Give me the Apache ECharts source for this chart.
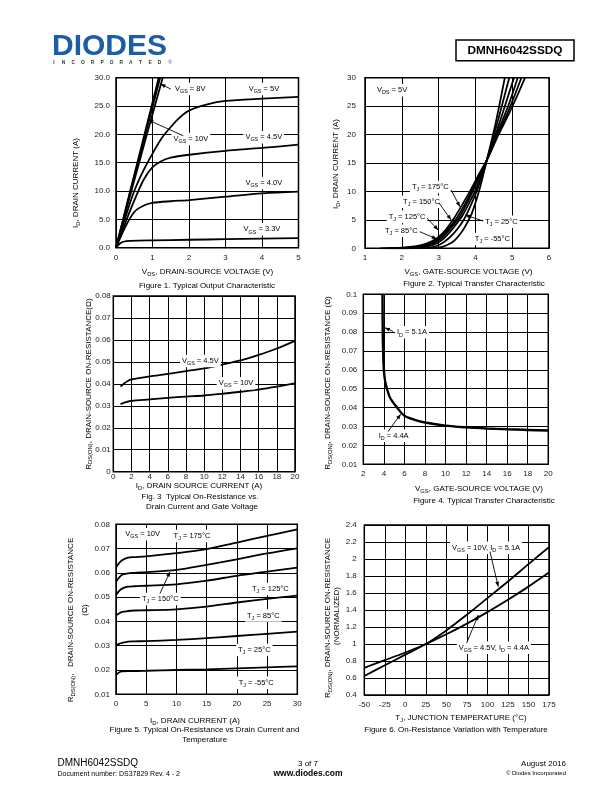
<!DOCTYPE html>
<html><head><meta charset="utf-8">
<script src="https://cdn.jsdelivr.net/npm/echarts@6/dist/echarts.min.js"></script>
<style>html,body{margin:0;padding:0;background:#fff}#c{width:612px;height:792px}</style>
</head><body><div id="c"></div>
<script>
// ---------- DATA ----------
// Figure 1: Typical Output Characteristic  [VDS (V), ID (A)]
const FIG1_VGS10 = [[0,0],[0.4,10.3],[0.8,20.5],[1.17,30]];
const FIG1_VGS8  = [[0,0],[0.4,10.0],[0.8,19.9],[1.21,30]];
const FIG1_VGS6  = [[0,0],[0.4,9.5],[0.8,18.9],[1.28,30]];
const FIG1_VGS5  = [[0,0],[0.25,5.2],[0.5,10],[0.75,13.6],[1,16.6],[1.25,19.3],[1.5,21.3],[1.75,23],[2,24.2],[2.5,25.3],[3,25.9],[4,26.3],[5,26.6]];
const FIG1_VGS45 = [[0,0],[0.25,4.3],[0.5,8.3],[0.75,11.9],[1,14.2],[1.25,15.3],[1.5,15.9],[2,16.4],[3,17.1],[4,17.6],[5,18.2]];
const FIG1_VGS40 = [[0,0],[0.25,3.6],[0.5,6.3],[0.75,7.4],[1,7.9],[1.5,8.2],[2,8.4],[3,9.0],[4,9.6],[5,9.9]];
const FIG1_VGS33 = [[0,0],[0.1,0.7],[0.2,1.05],[0.4,1.2],[1,1.3],[2,1.4],[3,1.5],[4,1.6],[5,1.7]];

// Figure 2: Typical Transfer Characteristic  [VGS (V), ID (A)]
const FIG2_T175 = [[1.4,0],[2.0,0.1],[2.5,0.5],[2.8,1.2],[3.0,2.0],[3.2,3.3],[3.39,5],[3.6,7.2],[3.85,10],[4.1,13.1],[4.31,15.5],[4.6,19.6],[4.9,23.5],[5.1,26.3],[5.35,30]];
const FIG2_T150 = [[1.6,0],[2.2,0.1],[2.6,0.5],[2.9,1.3],[3.1,2.3],[3.3,3.7],[3.48,5.2],[3.7,7.6],[3.9,10.1],[4.1,12.8],[4.31,15.5],[4.6,19.9],[4.9,24.2],[5.25,30]];
const FIG2_T125 = [[1.8,0],[2.35,0.1],[2.7,0.5],[3.0,1.4],[3.2,2.6],[3.4,4.1],[3.57,5.5],[3.8,8.3],[3.95,10.3],[4.15,13.2],[4.31,15.5],[4.6,20.3],[4.9,25.2],[5.15,30]];
const FIG2_T85  = [[2.0,0],[2.5,0.1],[2.85,0.6],[3.1,1.5],[3.3,2.8],[3.5,4.4],[3.67,6],[3.85,8.2],[4.0,10.2],[4.15,12.6],[4.31,15.5],[4.6,21],[4.85,26],[5.05,30]];
const FIG2_T25  = [[2.4,0],[2.8,0.15],[3.05,0.7],[3.3,1.9],[3.5,3.3],[3.7,5.2],[3.85,7.2],[4.05,10.3],[4.2,13.2],[4.31,15.5],[4.55,21],[4.75,25.8],[4.92,30]];
const FIG2_TM55 = [[2.8,0],[3.0,0.1],[3.2,0.5],[3.4,1.2],[3.55,2.2],[3.7,3.6],[3.9,6.1],[4.1,10.1],[4.31,15.5],[4.55,22],[4.8,30]];

// Figure 3: On-Resistance vs Drain Current  [ID (A), RDS(ON) (ohm)]
const FIG3_VGS45 = [[0.8,0.0387],[1.2,0.0402],[1.6,0.0413],[2,0.042],[4,0.0434],[6,0.0445],[8,0.0458],[10,0.047],[12,0.0488],[14,0.0507],[16,0.0532],[18,0.0561],[20,0.0596]];
const FIG3_VGS10 = [[0.8,0.0308],[1.5,0.0318],[2,0.0322],[4,0.0329],[6,0.0336],[8,0.0342],[10,0.0347],[12,0.0355],[14,0.0364],[16,0.0374],[18,0.0387],[20,0.0402]];

// Figure 4: RDS(ON) vs VGS  [VGS (V), RDS(ON) (ohm)]
const FIG4_ID51 = [[3.84,0.1],[3.86,0.08],[3.9,0.07],[3.97,0.06],[4.1,0.054],[4.27,0.05],[4.6,0.045],[5.25,0.04],[6,0.0356],[7,0.0334],[8,0.032],[10,0.0303],[12,0.0294],[14,0.0288],[16,0.0284],[18,0.028],[20,0.0277]];
const FIG4_ID44 = [[3.9,0.1],[3.92,0.08],[3.96,0.07],[4.03,0.06],[4.15,0.054],[4.33,0.05],[4.65,0.045],[5.3,0.0402],[6,0.0358],[7,0.0337],[8,0.0323],[10,0.0306],[12,0.0297],[14,0.0291],[16,0.0287],[18,0.0284],[20,0.0281]];

// Figure 5: RDS(ON) vs ID and Temperature
const FIG5_ID   = [0, 0.5, 1, 2, 3, 5, 10, 15, 20, 25, 30];
const FIG5_T175 = [0.0622, 0.0640, 0.0652, 0.0663, 0.0665, 0.0668, 0.0681, 0.0698, 0.0725, 0.0752, 0.0779];
const FIG5_T150 = [0.0564, 0.0580, 0.0592, 0.0598, 0.0600, 0.0603, 0.0612, 0.0633, 0.0656, 0.0680, 0.0701];
const FIG5_T125 = [0.0509, 0.0525, 0.0535, 0.0543, 0.0545, 0.0547, 0.0553, 0.0568, 0.0588, 0.0605, 0.0622];
const FIG5_T85  = [0.0425, 0.0433, 0.0439, 0.0443, 0.0445, 0.0446, 0.0450, 0.0461, 0.0478, 0.0493, 0.0506];
const FIG5_T25  = [0.0303, 0.0308, 0.0312, 0.0317, 0.0318, 0.0319, 0.0324, 0.0331, 0.0340, 0.0349, 0.0358];
const FIG5_TM55 = [0.0180, 0.0190, 0.0194, 0.0196, 0.0196, 0.0197, 0.0200, 0.0203, 0.0207, 0.0211, 0.0215];

// Figure 6: Normalized RDS(ON) vs Temperature
const FIG6_TJ    = [-50, -25, 0, 25, 50, 75, 100, 125, 150, 175];
const FIG6_VGS10 = [0.624, 0.75, 0.875, 1.0, 1.16, 1.345, 1.54, 1.735, 1.94, 2.14];
const FIG6_VGS45 = [0.72, 0.81, 0.90, 1.0, 1.115, 1.24, 1.375, 1.52, 1.675, 1.84];

// Axis ranges / ticks  [min, max, interval]
const AXES = [
  {x:[0,5,1],       y:[0,30,5]},
  {x:[1,6,1],       y:[0,30,5]},
  {x:[0,20,2],      y:[0,0.08,0.01]},
  {x:[2,20,2],      y:[0.01,0.1,0.01]},
  {x:[0,30,5],      y:[0.01,0.08,0.01]},
  {x:[-50,175,25],  y:[0.4,2.4,0.2]}
];

// ---------- CHART ----------
const FONT = '"Liberation Sans", Arial, Helvetica, sans-serif';
const chart = echarts.init(document.getElementById('c'), null, {renderer:'canvas', width:612, height:792});

const GRIDS = [
  {left:116,   top:77.7,  width:182.5, height:170},
  {left:365,   top:77.7,  width:184,   height:170.6},
  {left:113.3, top:296,   width:181.7, height:175.7},
  {left:363.3, top:294.3, width:185,   height:170},
  {left:116,   top:524.3, width:181.3, height:170},
  {left:364.3, top:525,   width:184.7, height:170}
];
const X_MARGIN = [6, 5.5, 1, 5, 5, 6];
const Y_MARGIN = [6, 9, 2.5, 6, 6, 7.5];

const yFmt = [
  v => v.toFixed(1),
  v => String(Math.round(v)),
  v => String(Math.round(v*100)/100),
  v => String(Math.round(v*100)/100),
  v => String(Math.round(v*100)/100),
  v => String(Math.round(v*10)/10)
];

function axis(i, r, fmt, margin) {
  return {
    gridIndex:i, type:'value', min:r[0], max:r[1], interval:r[2],
    axisLine:{show:false}, axisTick:{show:false},
    splitLine:{show:true, lineStyle:{color:'#000', width:1}},
    axisLabel:{color:'#222', fontSize:8, fontFamily:FONT, margin, formatter:fmt,
               showMinLabel:true, showMaxLabel:true}
  };
}

const grid = GRIDS.map(g => Object.assign({show:true, borderColor:'#000', borderWidth:1.5, backgroundColor:'#fff', containLabel:false}, g));
const xAxis = AXES.map((a,i) => axis(i, a.x, v => String(Math.round(v*100)/100), X_MARGIN[i]));
const yAxis = AXES.map((a,i) => axis(i, a.y, yFmt[i], Y_MARGIN[i]));

function ser(i, data) {
  return {type:'line', xAxisIndex:i, yAxisIndex:i, data, showSymbol:false, symbol:'none',
          smooth:0.3, clip:true, silent:true,
          lineStyle:{color:'#000', width:1.8}, z:5};
}
const zip = (xs, ys) => xs.map((x,k) => [x, ys[k]]);

const series = [
  ser(0, FIG1_VGS10), ser(0, FIG1_VGS8), ser(0, FIG1_VGS6), ser(0, FIG1_VGS5),
  ser(0, FIG1_VGS45), ser(0, FIG1_VGS40), ser(0, FIG1_VGS33),
  ser(1, FIG2_T175), ser(1, FIG2_T150), ser(1, FIG2_T125), ser(1, FIG2_T85), ser(1, FIG2_T25), ser(1, FIG2_TM55),
  ser(2, FIG3_VGS45), ser(2, FIG3_VGS10),
  ser(3, FIG4_ID51), ser(3, FIG4_ID44),
  ser(4, zip(FIG5_ID, FIG5_T175)), ser(4, zip(FIG5_ID, FIG5_T150)), ser(4, zip(FIG5_ID, FIG5_T125)),
  ser(4, zip(FIG5_ID, FIG5_T85)), ser(4, zip(FIG5_ID, FIG5_T25)), ser(4, zip(FIG5_ID, FIG5_TM55)),
  ser(5, zip(FIG6_TJ, FIG6_VGS10)), ser(5, zip(FIG6_TJ, FIG6_VGS45))
];

chart.setOption({animation:false, backgroundColor:'#fff', grid, xAxis, yAxis, series});

// ---------- TEXT / ANNOTATIONS ----------
function richText(str) {
  let out = '', re = /_\{([^}]*)\}/g, last = 0, m;
  while ((m = re.exec(str))) {
    if (m.index > last) out += '{n|' + str.slice(last, m.index) + '}';
    out += '{s|' + m[1] + '}';
    last = re.lastIndex;
  }
  if (last < str.length) out += '{n|' + str.slice(last) + '}';
  return out;
}
function txt(x, y, str, fs, o) {
  o = o || {};
  const fw = o.bold ? 'bold' : 'normal';
  const col = o.color || '#000';
  const sfs = Math.round(fs*0.72*10)/10;
  const el = {type:'text', x, y, rotation:o.rot||0, z:100, silent:true,
    style:{text:richText(str), align:o.align||'left', verticalAlign:'middle',
      fontFamily:FONT, fontSize:fs, fontWeight:fw, fill:col,
      rich:{n:{fontSize:fs, fontFamily:FONT, fontWeight:fw, fill:col, lineHeight:fs+3},
            s:{fontSize:sfs, fontFamily:FONT, fontWeight:fw, fill:col, lineHeight:sfs, verticalAlign:'bottom'}}}};
  if (o.bg) { el.style.backgroundColor = o.bg; el.style.padding = o.pad || [1,2]; }
  return el;
}
const P = (g, p) => chart.convertToPixel({gridIndex:g}, p);

// labels inside plots: [grid, [x,y] of left-middle, text]
const LABELS = [
  [0,[1.56,28.0],'V_{GS} = 8V'], [0,[1.52,19.2],'V_{GS} = 10V'], [0,[3.58,28.0],'V_{GS} = 5V'],
  [0,[3.49,19.5],'V_{GS} = 4.5V'], [0,[3.49,11.4],'V_{GS} = 4.0V'], [0,[3.44,3.25],'V_{GS} = 3.3V'],
  [1,[1.27,27.8],'V_{DS} = 5V'], [1,[2.22,10.8],'T_{J} = 175°C'], [1,[1.98,8.2],'T_{J} = 150°C'],
  [1,[1.59,5.56],'T_{J} = 125°C'], [1,[1.49,3.1],'T_{J} = 85°C'], [1,[4.21,4.68],'T_{J} = 25°C'],
  [1,[3.93,1.64],'T_{J} = -55°C'],
  [2,[7.34,0.0504],'V_{GS} = 4.5V'], [2,[11.38,0.0403],'V_{GS} = 10V'],
  [3,[5.08,0.0799],'I_{D} = 5.1A'], [3,[3.3,0.0251],'I_{D} = 4.4A'],
  [4,[1.21,0.0759],'V_{GS} = 10V'], [4,[9.2,0.0752],'T_{J} = 175°C'], [4,[3.97,0.0492],'T_{J} = 150°C'],
  [4,[22.17,0.0534],'T_{J} = 125°C'], [4,[21.35,0.0424],'T_{J} = 85°C'], [4,[19.86,0.0282],'T_{J} = 25°C'],
  [4,[19.97,0.0148],'T_{J} = -55°C'],
  [5,[54.4,2.133],'V_{GS} = 10V, I_{D} = 5.1A'], [5,[62.6,0.956],'V_{GS} = 4.5V, I_{D} = 4.4A']
];
// arrows: [grid, from, to(head)]
const ARROWS = [
  [0,[1.50,28.0],[1.22,28.9]], [0,[1.84,19.76],[0.885,22.53]],
  [1,[3.34,10.25],[3.58,7.3]], [1,[3.01,7.97],[3.34,5.0]], [1,[2.68,5.33],[2.99,3.2]],
  [1,[2.49,2.92],[2.95,1.64]], [1,[4.21,4.8],[3.72,5.86]],
  [3,[4.89,0.0804],[4.1,0.0823]], [3,[4.40,0.0273],[5.64,0.0365]],
  [4,[7.28,0.0515],[8.94,0.0605]],
  [5,[103.1,2.086],[113.2,1.674]], [5,[74.7,1.012],[88.9,1.341]]
];

const G = [];
LABELS.forEach(([g, p, t]) => { const q = P(g, p); G.push(txt(q[0], q[1], t, 7.5, {bg:'#fff', pad:[1,2]})); });
ARROWS.forEach(([g, a, b]) => {
  const p1 = P(g, a), p2 = P(g, b);
  G.push({type:'line', z:101, silent:true, shape:{x1:p1[0], y1:p1[1], x2:p2[0], y2:p2[1]}, style:{stroke:'#000', lineWidth:0.9}});
  const dx = p2[0]-p1[0], dy = p2[1]-p1[1], L = Math.hypot(dx, dy), ux = dx/L, uy = dy/L;
  const hl = 5, hw = 2;
  G.push({type:'polygon', z:101, silent:true, shape:{points:[[p2[0],p2[1]],
    [p2[0]-ux*hl - uy*hw, p2[1]-uy*hl + ux*hw], [p2[0]-ux*hl + uy*hw, p2[1]-uy*hl - ux*hw]]}, style:{fill:'#000'}});
});

const R90 = Math.PI/2;
// axis names & figure titles
[
  [75.7, 183, 'I_{D}, DRAIN CURRENT (A)', R90],
  [207.5, 271.7, 'V_{DS}, DRAIN-SOURCE VOLTAGE (V)'],
  [207, 285.3, 'Figure 1. Typical Output Characteristic'],
  [336, 164, 'I_{D}, DRAIN CURRENT (A)', R90],
  [468.5, 271.7, 'V_{GS}, GATE-SOURCE VOLTAGE (V)'],
  [474, 283.5, 'Figure 2. Typical Transfer Characteristic'],
  [88.3, 384, 'R_{DS(ON)}, DRAIN-SOURCE ON-RESISTANCE(Ω)', R90],
  [199, 486, 'I_{D}, DRAIN SOURCE CURRENT (A)'],
  [200, 496.5, 'Fig. 3  Typical On-Resistance vs.'],
  [202, 506.5, 'Drain Current and Gate Voltage'],
  [328, 383, 'R_{DS(ON)}, DRAIN-SOURCE ON-RESISTANCE (Ω)', R90],
  [479, 489, 'V_{GS}, GATE-SOURCE VOLTAGE (V)'],
  [484, 501, 'Figure 4. Typical Transfer Characteristic'],
  [71, 620, 'R_{DS(ON)},   DRAIN-SOURCE ON-RESISTANCE', R90],
  [85, 610, '(Ω)', R90],
  [195, 720.7, 'I_{D}, DRAIN CURRENT (A)'],
  [204.5, 729.5, 'Figure 5. Typical On-Resistance vs Drain Current and'],
  [204.7, 739.5, 'Temperature'],
  [327.5, 618, 'R_{DS(ON)}, DRAIN-SOURCE ON-RESISTANCE', R90],
  [336.5, 616, '(NORMALIZED)', R90],
  [461, 717.7, 'T_{J}, JUNCTION TEMPERATURE (°C)'],
  [456, 729.3, 'Figure 6. On-Resistance Variation with Temperature']
].forEach(([x, y, t, r]) => G.push(txt(x, y, t, 8, {align:'center', rot:r||0})));

// header
G.push({type:'text', x:52, y:46.5, z:100, silent:true,
  style:{text:'DIODES', fontFamily:FONT, fontSize:30, fontWeight:'bold', fill:'#1d5da5', align:'left', verticalAlign:'middle'}});
'INCORPORATED'.split('').forEach((c, k) => G.push({type:'text', x:54 + k*9.6, y:63, z:100, silent:true,
  style:{text:c, fontFamily:FONT, fontSize:4.8, fontWeight:'bold', fill:'#333', align:'center', verticalAlign:'middle'}}));
G.push({type:'text', x:170, y:62.5, z:100, silent:true,
  style:{text:'®', fontFamily:FONT, fontSize:5, fill:'#1d5da5', align:'center', verticalAlign:'middle'}});
G.push({type:'rect', z:100, silent:true, shape:{x:456, y:40, width:118, height:20.7}, style:{fill:'#fff', stroke:'#000', lineWidth:1.5}});
G.push(txt(515, 50.5, 'DMNH6042SSDQ', 11.8, {align:'center', bold:true}));

// footer
G.push(txt(57.5, 763.5, 'DMNH6042SSDQ', 10));
G.push(txt(57.5, 774.3, 'Document number: DS37829 Rev. 4 - 2', 7));
G.push(txt(308, 763.5, '3 of 7', 8, {align:'center'}));
G.push(txt(308, 773.5, 'www.diodes.com', 8.5, {align:'center', bold:true}));
G.push(txt(566, 763.5, 'August 2016', 8, {align:'right'}));
G.push(txt(566, 773.5, '© Diodes Incorporated', 6, {align:'right'}));

chart.setOption({graphic:G});
</script>
</body></html>
